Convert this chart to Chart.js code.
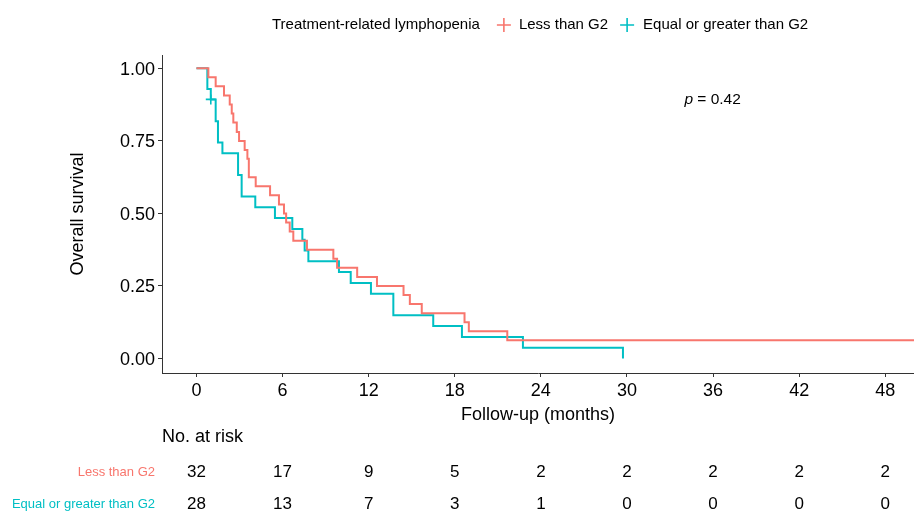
<!DOCTYPE html>
<html>
<head>
<meta charset="utf-8">
<script src="https://cdn.jsdelivr.net/npm/chart.js@4.4.1/dist/chart.umd.min.js"></script>
<style>
  body { margin: 0; background: #fff; }
  canvas { display: block; }
</style>
</head>
<body>
<canvas id="km" width="914" height="512"></canvas>
<script>
const FONT = '"Liberation Sans", Arial, sans-serif';
const RED = '#F8766D';
const TEAL = '#00BFC4';

const legendTitle = 'Treatment-related lymphopenia';
const groupNames = ['Less than G2', 'Equal or greater than G2'];

// Kaplan-Meier steps (time in months, survival after the step)
const lessTimes = [0, 0.83, 1.34, 1.92, 2.32, 2.46, 2.57, 2.81, 2.97, 3.36, 3.55, 3.65, 4.13, 5.13, 5.75,
  6.1, 6.25, 6.5, 6.75, 7.7, 9.54, 9.8, 11.2, 12.58, 14.43, 14.87, 15.7, 18.68, 18.98, 21.66, 50];
const lessSurv = [1, 0.969, 0.938, 0.906, 0.875, 0.844, 0.813, 0.781, 0.75, 0.719, 0.688, 0.625, 0.594, 0.563, 0.531,
  0.5, 0.469, 0.438, 0.406, 0.375, 0.344, 0.313, 0.281, 0.25, 0.219, 0.188, 0.156, 0.125, 0.094, 0.063, 0.063];

const greaterTimes = [0, 0.76, 1.0, 1.34, 1.5, 1.81, 2.9, 3.15, 4.1, 5.47, 6.68, 7.38, 7.54, 7.8, 9.93,
  10.75, 12.16, 13.72, 16.5, 18.5, 22.75, 29.72];
const greaterSurv = [1, 0.929, 0.893, 0.818, 0.744, 0.707, 0.632, 0.558, 0.521, 0.484, 0.446, 0.409, 0.372, 0.335, 0.298,
  0.26, 0.223, 0.149, 0.112, 0.074, 0.037, 0];

// censoring marks
const greaterCensorTimes = [1.0];
const greaterCensorSurv = [0.893];

const xTicks = [0, 6, 12, 18, 24, 30, 36, 42, 48];
const yTicks = [0, 0.25, 0.5, 0.75, 1];
const riskLess = [32, 17, 9, 5, 2, 2, 2, 2, 2];
const riskGreater = [28, 13, 7, 3, 1, 0, 0, 0, 0];
const pValue = '0.42';

function toPoints(xs, ys) {
  return xs.map((x, i) => ({x: x, y: ys[i]}));
}

function drawCross(ctx, cx, cy, half, color) {
  ctx.strokeStyle = color;
  ctx.lineWidth = 1.6;
  ctx.beginPath();
  ctx.moveTo(cx - half, cy);
  ctx.lineTo(cx + half, cy);
  ctx.moveTo(cx, cy - half);
  ctx.lineTo(cx, cy + half);
  ctx.stroke();
}

const overlay = {
  id: 'overlay',
  afterDraw(chart) {
    const ctx = chart.ctx;
    const xs = chart.scales.x, ys = chart.scales.y;
    ctx.save();
    ctx.textBaseline = 'middle';

    // legend on top
    ctx.font = '15px ' + FONT;
    ctx.fillStyle = '#000';
    ctx.textAlign = 'left';
    let lx = 272;
    const ly = 25;
    ctx.fillText(legendTitle, lx, ly);
    lx += ctx.measureText(legendTitle).width + 24;
    drawCross(ctx, lx, ly, 7, RED);
    lx += 15;
    ctx.fillStyle = '#000';
    ctx.fillText(groupNames[0], lx, ly);
    lx += ctx.measureText(groupNames[0]).width + 19;
    drawCross(ctx, lx, ly, 7, TEAL);
    lx += 16;
    ctx.fillStyle = '#000';
    ctx.fillText(groupNames[1], lx, ly);

    // p value
    ctx.font = 'italic 15.5px ' + FONT;
    const px = xs.getPixelForValue(34.0);
    const py = ys.getPixelForValue(0.893);
    ctx.fillText('p', px, py);
    const pw = ctx.measureText('p').width;
    ctx.font = '15.5px ' + FONT;
    ctx.fillText(' = ' + pValue, px + pw, py);

    // risk table
    ctx.font = '18px ' + FONT;
    ctx.fillText('No. at risk', 162, 437);
    const rows = [[riskLess, RED, 472], [riskGreater, TEAL, 504]];
    rows.forEach(([vals, color, ry], k) => {
      ctx.font = '13px ' + FONT;
      ctx.textAlign = 'right';
      ctx.fillStyle = color;
      ctx.fillText(groupNames[k], 155, ry);
      ctx.font = '17px ' + FONT;
      ctx.textAlign = 'center';
      ctx.fillStyle = '#000';
      vals.forEach((v, i) => ctx.fillText(String(v), xs.getPixelForValue(xTicks[i]), ry));
    });
    ctx.restore();
  }
};

new Chart(document.getElementById('km'), {
  type: 'line',
  data: {
    datasets: [
      {
        label: groupNames[0],
        data: toPoints(lessTimes, lessSurv),
        borderColor: RED,
        borderWidth: 2,
        stepped: 'before',
        pointRadius: 0
      },
      {
        label: groupNames[1],
        data: toPoints(greaterTimes, greaterSurv),
        borderColor: TEAL,
        borderWidth: 2,
        stepped: 'before',
        pointRadius: 0
      },
      {
        label: 'censor',
        data: toPoints(greaterCensorTimes, greaterCensorSurv),
        showLine: false,
        pointStyle: 'cross',
        pointRadius: 5,
        borderColor: TEAL,
        borderWidth: 1.6
      }
    ]
  },
  options: {
    responsive: false,
    animation: false,
    layout: {autoPadding: false, padding: {top: 55, bottom: 79, left: 0, right: 0}},
    plugins: {legend: {display: false}, tooltip: {enabled: false}},
    scales: {
      x: {
        type: 'linear',
        min: -2.4,
        max: 50,
        afterBuildTicks: s => { s.ticks = xTicks.map(v => ({value: v})); },
        afterFit: s => { s.height = 60; s.paddingLeft = 0; s.paddingRight = 0; },
        grid: {drawOnChartArea: false, drawTicks: true, tickLength: 4, color: '#333'},
        border: {display: true, color: '#333', width: 1},
        ticks: {color: '#000', font: {family: FONT, size: 18}, padding: 3, maxRotation: 0},
        title: {display: true, text: 'Follow-up (months)', color: '#000', font: {family: FONT, size: 18}, padding: {top: 0, bottom: 7}}
      },
      y: {
        min: -0.05,
        max: 1.046,
        afterBuildTicks: s => { s.ticks = yTicks.map(v => ({value: v})); },
        afterFit: s => { s.width = 162; s.paddingTop = 0; s.paddingBottom = 0; },
        grid: {drawOnChartArea: false, drawTicks: true, tickLength: 4, color: '#333'},
        border: {display: true, color: '#333', width: 1},
        ticks: {color: '#000', font: {family: FONT, size: 18}, padding: 3, labelOffset: 1.5, callback: v => v.toFixed(2)},
        title: {display: true, text: 'Overall survival', color: '#000', font: {family: FONT, size: 18}, padding: {top: 67, bottom: 0}}
      }
    }
  },
  plugins: [overlay]
});
</script>
</body>
</html>
